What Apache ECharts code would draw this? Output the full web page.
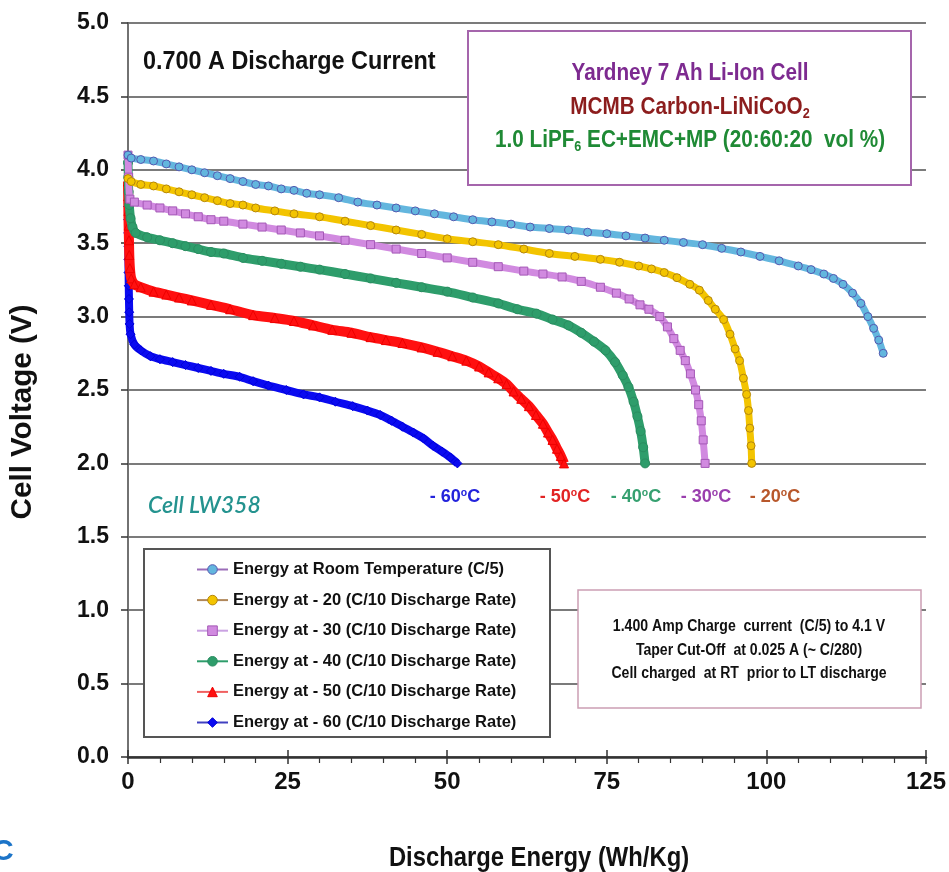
<!DOCTYPE html>
<html>
<head>
<meta charset="utf-8">
<title>Yardney 7 Ah Li-Ion Cell discharge energy</title>
<script src="https://cdn.jsdelivr.net/npm/echarts@6.0.0/dist/echarts.min.js"></script>
<style>
  html, body { margin: 0; padding: 0; background: #ffffff; }
  #chart { width: 949px; height: 872px; }
</style>
</head>
<body>
<div id="chart"></div>
<script>
const FONT = "'Liberation Sans',Arial,sans-serif";

// Axis settings
const xRange = [0, 125];
const xStep = 25;
const yRange = [0, 5];
const yStep = 0.5;

// Legend names
const seriesNames = [
  'Energy at Room Temperature (C/5)',
  'Energy at - 20 (C/10 Discharge Rate)',
  'Energy at - 30 (C/10 Discharge Rate)',
  'Energy at - 40 (C/10 Discharge Rate)',
  'Energy at - 50 (C/10 Discharge Rate)',
  'Energy at - 60 (C/10 Discharge Rate)'
];

// Discharge curves: [energy Wh/Kg, cell voltage V]
const rtData = [
  [0, 4.10], [0.5, 4.08], [2, 4.07], [4, 4.06], [6, 4.04], [8, 4.02], [10, 4.00],
  [12, 3.98], [14, 3.96], [16, 3.94], [18, 3.92], [20, 3.90], [22, 3.89], [24, 3.87],
  [26, 3.86], [28, 3.84], [30, 3.83], [33, 3.81], [36, 3.78], [39, 3.76], [42, 3.74],
  [45, 3.72], [48, 3.70], [51, 3.68], [54, 3.66], [57, 3.645], [60, 3.63], [63, 3.61],
  [66, 3.60], [69, 3.59], [72, 3.575], [75, 3.565], [78, 3.55], [81, 3.535], [84, 3.52],
  [87, 3.505], [90, 3.49], [93, 3.465], [96, 3.44], [99, 3.41], [102, 3.38], [105, 3.345],
  [107, 3.32], [109, 3.29], [110.5, 3.26], [112, 3.22], [113.5, 3.16], [114.8, 3.09],
  [115.9, 3.00], [116.8, 2.92], [117.6, 2.84], [118.3, 2.75]
];
const m20Data = [
  [0, 3.94], [0.5, 3.92], [2, 3.90], [4, 3.89], [6, 3.87], [8, 3.85], [10, 3.83],
  [12, 3.81], [14, 3.79], [16, 3.77], [18, 3.76], [20, 3.74], [23, 3.72], [26, 3.70],
  [30, 3.68], [34, 3.65], [38, 3.62], [42, 3.59], [46, 3.56], [50, 3.53], [54, 3.51],
  [58, 3.49], [62, 3.46], [66, 3.43], [70, 3.41], [74, 3.39], [77, 3.37], [80, 3.345],
  [82, 3.325], [84, 3.30], [86, 3.265], [88, 3.22], [89.5, 3.18], [90.9, 3.11], [92, 3.05],
  [93.3, 2.98], [94.3, 2.88], [95.1, 2.78], [95.8, 2.70], [96.4, 2.58], [96.9, 2.47],
  [97.2, 2.36], [97.4, 2.24], [97.6, 2.12], [97.7, 2.00]
];
const m30Data = [
  [0, 4.10], [0.1, 3.95], [0.3, 3.80], [1, 3.78], [3, 3.76], [5, 3.74], [7, 3.72], [9, 3.70],
  [11, 3.68], [13, 3.66], [15, 3.65], [18, 3.63], [21, 3.61], [24, 3.59], [27, 3.57],
  [30, 3.55], [34, 3.52], [38, 3.49], [42, 3.46], [46, 3.43], [50, 3.40], [54, 3.37],
  [58, 3.34], [62, 3.31], [65, 3.29], [68, 3.27], [71, 3.24], [74, 3.20], [76.5, 3.16],
  [78.5, 3.12], [80.2, 3.08], [81.6, 3.05], [83.3, 3.00], [84.5, 2.93], [85.5, 2.85],
  [86.5, 2.77], [87.3, 2.70], [88.1, 2.61], [88.9, 2.50], [89.4, 2.40], [89.8, 2.29],
  [90.1, 2.16], [90.4, 2.00]
];
const m40Data = [
  [0, 4.05], [0.05, 3.95], [0.1, 3.85], [0.2, 3.76], [0.4, 3.67], [0.7, 3.61], [1.2, 3.57],
  [3, 3.54], [5, 3.52], [7, 3.50],
  [9, 3.48], [11, 3.46], [13, 3.44], [15, 3.43], [18, 3.40], [21, 3.38], [24, 3.36],
  [27, 3.34], [30, 3.32], [34, 3.29], [38, 3.26], [42, 3.23], [46, 3.20], [50, 3.17],
  [54, 3.13], [58, 3.09], [61, 3.05], [64, 3.02], [66.5, 2.98], [69, 2.94], [71, 2.89],
  [73, 2.83], [74.8, 2.77], [76.3, 2.69], [77.5, 2.60], [78.4, 2.52], [79.2, 2.42],
  [79.8, 2.32], [80.3, 2.22], [80.7, 2.11], [81, 2.00]
];
const m50Data = [
  [0, 3.92], [0.03, 3.82], [0.06, 3.72], [0.1, 3.62], [0.15, 3.52], [0.2, 3.42],
  [0.3, 3.33], [0.5, 3.26], [1, 3.22], [2, 3.20], [4, 3.17], [6, 3.15],
  [8, 3.13], [10, 3.11], [13, 3.08], [16, 3.05], [19.6, 3.01], [23, 2.99], [26, 2.97],
  [29, 2.94], [32, 2.91], [35, 2.89], [38, 2.86], [40.4, 2.84], [43, 2.82], [46, 2.79],
  [48.5, 2.76], [50.8, 2.73], [53, 2.70], [55, 2.66], [56.5, 2.62], [58, 2.58],
  [59.3, 2.54], [60.4, 2.49], [61.6, 2.44], [62.8, 2.39], [63.9, 2.33], [65, 2.27],
  [65.8, 2.21], [66.5, 2.16], [67.2, 2.10], [67.8, 2.05], [68.3, 2.00]
];
const m60Data = [
  [0, 3.75], [0.02, 3.66], [0.03, 3.57], [0.05, 3.48], [0.07, 3.39], [0.09, 3.30],
  [0.12, 3.21], [0.15, 3.12], [0.19, 3.03], [0.25, 2.95], [0.4, 2.88], [1, 2.81], [2, 2.77],
  [3.5, 2.73], [5, 2.71], [7, 2.69], [9, 2.67], [11, 2.65], [13, 2.63], [15, 2.61],
  [17.5, 2.59], [19.6, 2.56], [22, 2.53], [24.8, 2.50], [27.5, 2.47], [30, 2.45],
  [32.5, 2.42], [35.2, 2.39], [37.5, 2.36], [39.5, 2.33], [41.3, 2.29], [43, 2.25],
  [44.7, 2.21], [46.3, 2.17], [47.8, 2.12], [49.2, 2.08], [50.5, 2.04], [51.6, 2.00]
];

// Per-curve look: marker, fill, outline, band width, legend line colour
const curveStyles = [
  { data: rtData,  symbol: 'circle',   size: 8, fill: '#63b6de', edge: '#5458b0', width: 7, legendLine: '#9b6cb8' },
  { data: m20Data, symbol: 'circle',   size: 8, fill: '#f3c400', edge: '#b4860e', width: 7, legendLine: '#b0875a' },
  { data: m30Data, symbol: 'rect',     size: 8, fill: '#d18ae0', edge: '#a458b6', width: 7, legendLine: '#caa2e2' },
  { data: m40Data, symbol: 'circle',   size: 9, fill: '#2e9d6b', edge: '#2a8c60', width: 9, legendLine: '#2e9d6b' },
  { data: m50Data, symbol: 'triangle', size: 9, fill: '#ff1010', edge: '#ee0000', width: 10, legendLine: '#f06060' },
  { data: m60Data, symbol: 'diamond',  size: 9, fill: '#0a0af0', edge: '#0000d8', width: 8, legendLine: '#4040c0' }
];

const series = curveStyles.map((c, i) => ({
  name: seriesNames[i],
  type: 'line',
  data: c.data,
  symbol: c.symbol,
  symbolSize: c.size,
  showAllSymbol: true,
  smooth: 0.3,
  z: 10 - i,
  itemStyle: { color: c.fill, borderColor: c.edge, borderWidth: 1 },
  lineStyle: { color: c.fill, width: c.width },
  emphasis: { disabled: true },
  animation: false
}));

// Right-hand frame of the plot area
series.push({ type: 'line', yAxisIndex: 1, data: [], silent: true });

// Captions drawn on the plot (condensed bold type via horizontal scaling)
const boldText = (x, y, text, size, color, align, sx) => ({
  type: 'text', x: x, y: y, z: 100, scaleX: sx || 1,
  style: {
    text: text, fill: color, font: 'bold ' + size + 'px ' + FONT,
    align: align || 'center', verticalAlign: 'middle'
  }
});

const tempLabels = [
  { x: 455, text: '- 60', color: '#2424dc' },
  { x: 565, text: '- 50', color: '#e22424' },
  { x: 636, text: '- 40', color: '#36a070' },
  { x: 706, text: '- 30', color: '#9a3fae' },
  { x: 775, text: '- 20', color: '#b8582c' }
];

const richLine = (y, parts, color) => ({
  type: 'text', x: 690, y: y, z: 100, scaleX: 0.9,
  style: {
    text: parts, align: 'center', verticalAlign: 'middle',
    rich: {
      a: { font: 'bold 23px ' + FONT, fill: color },
      s: { font: 'bold 14px ' + FONT, fill: color, padding: [13, 0, 0, 0] }
    }
  }
});

const graphics = [
  boldText(143, 62, '0.700 A Discharge Current', 26, '#111', 'left', 0.9),
  { type: 'rect', z: 90, shape: { x: 468, y: 31, width: 443, height: 154 },
    style: { fill: '#ffffff', stroke: '#a565ac', lineWidth: 2 } },
  richLine(74, '{a|Yardney 7 Ah Li-Ion Cell}', '#7d2a90'),
  richLine(108, '{a|MCMB Carbon-LiNiCoO}{s|2}', '#8c1d1d'),
  richLine(141, '{a|1.0 LiPF}{s|6}{a| EC+EMC+MP (20:60:20  vol %)}', '#1f8a35'),
  { type: 'text', x: 148, y: 506, z: 100,
    style: { text: 'Cell LW358', fill: '#24938f', font: 'italic 600 23px Lato, sans-serif',
      align: 'left', verticalAlign: 'middle' } },
  { type: 'rect', z: 80, shape: { x: 144, y: 549, width: 406, height: 188 },
    style: { fill: '#ffffff', stroke: '#555555', lineWidth: 2 } },
  { type: 'rect', z: 80, shape: { x: 578, y: 590, width: 343, height: 118 },
    style: { fill: '#ffffff', stroke: '#cc9fb4', lineWidth: 1.5 } },
  boldText(749, 627, '1.400 Amp Charge  current  (C/5) to 4.1 V', 16, '#111', 'center', 0.88),
  boldText(749, 651, 'Taper Cut-Off  at 0.025 A (~ C/280)', 16, '#111', 'center', 0.88),
  boldText(749, 674, 'Cell charged  at RT  prior to LT discharge', 16, '#111', 'center', 0.88),
  // Axis titles
  boldText(539, 858, 'Discharge Energy (Wh/Kg)', 28, '#111', 'center', 0.85),
  { type: 'text', x: 23, y: 412, z: 100, rotation: Math.PI / 2, scaleX: 1.02,
    style: { text: 'Cell Voltage (V)', fill: '#111', font: 'bold 29px ' + FONT,
      align: 'center', verticalAlign: 'middle' } },
  { type: 'text', x: -8, y: 852, z: 100,
    style: { text: 'C', fill: '#1c74c8', font: 'bold 30px ' + FONT, align: 'left', verticalAlign: 'middle' } }
];
tempLabels.forEach(t => {
  graphics.push({ type: 'text', x: t.x, y: 497, z: 100, scaleX: 0.95,
    style: {
      text: '{a|' + t.text + '}{o|o}{a|C}', align: 'center', verticalAlign: 'middle',
      rich: {
        a: { font: 'bold 19px ' + FONT, fill: t.color },
        o: { font: 'bold 11px ' + FONT, fill: t.color, padding: [0, 0, 8, 0] }
      }
    } });
});

const chart = echarts.init(document.getElementById('chart'), null, { renderer: 'canvas' });
chart.setOption({
  backgroundColor: '#ffffff',
  animation: false,
  grid: { left: 128, right: 21, top: 23, bottom: 115, containLabel: false },
  legend: {
    orient: 'vertical',
    left: 191, top: 555,
    z: 95,
    itemWidth: 31, itemHeight: 12, itemGap: 11.6,
    selectedMode: false,
    textStyle: { fontFamily: FONT, fontWeight: 'bold', fontSize: 16.5, color: '#111', lineHeight: 19 },
    data: seriesNames.map((n, i) => ({
      name: n,
      itemStyle: { color: curveStyles[i].fill, borderColor: curveStyles[i].edge, borderWidth: 1 },
      lineStyle: { color: curveStyles[i].legendLine, width: 2 }
    }))
  },
  xAxis: [{
    type: 'value',
    min: xRange[0], max: xRange[1], interval: xStep,
    axisLine: { show: true, lineStyle: { color: '#333', width: 2.5 } },
    axisTick: { show: true, inside: false, length: 7, lineStyle: { color: '#333', width: 1.5 } },
    minorTick: { show: true, splitNumber: 5, length: 6, lineStyle: { color: '#333', width: 1.2 } },
    axisLabel: { fontFamily: FONT, fontWeight: 'bold', fontSize: 24, color: '#111', margin: 13 },
    splitLine: { show: false }
  }, {
    type: 'value', gridIndex: 0, position: 'bottom',
    min: xRange[0], max: xRange[1], interval: xStep,
    axisLine: { show: false },
    axisTick: { show: true, inside: true, length: 7, lineStyle: { color: '#333', width: 1.5 } },
    axisLabel: { show: false },
    splitLine: { show: false }
  }],
  yAxis: [{
    type: 'value',
    min: yRange[0], max: yRange[1], interval: yStep,
    axisLine: { show: true, lineStyle: { color: '#333', width: 1.5 } },
    axisTick: { show: true, length: 7, lineStyle: { color: '#333', width: 1.5 } },
    axisLabel: { fontFamily: FONT, fontWeight: 'bold', fontSize: 23, color: '#111', margin: 19,
      formatter: v => v.toFixed(1) },
    splitLine: { show: true, lineStyle: { color: '#4f4f4f', width: 1.6 } }
  }, {
    type: 'value', position: 'right',
    min: yRange[0], max: yRange[1], interval: yStep,
    axisLine: { show: true, lineStyle: { color: '#777', width: 1.5 } },
    axisTick: { show: false }, axisLabel: { show: false }, splitLine: { show: false }
  }],
  series: series,
  graphic: graphics
});
</script>
</body>
</html>
